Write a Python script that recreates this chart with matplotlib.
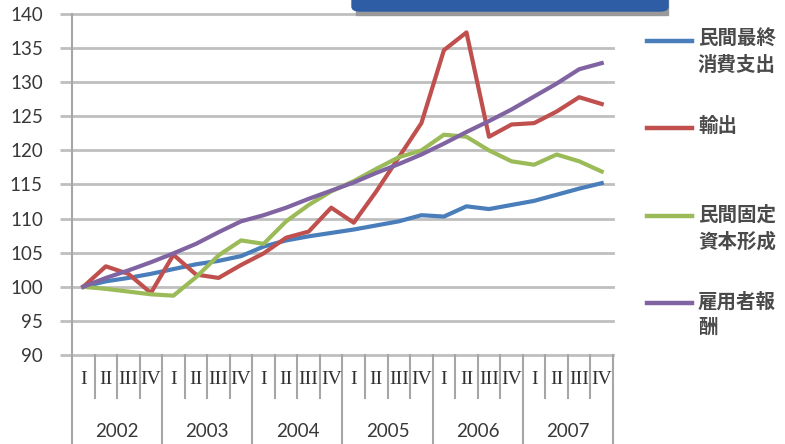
import matplotlib
matplotlib.use("Agg")
import matplotlib.pyplot as plt
from matplotlib.lines import Line2D
from matplotlib.patches import FancyBboxPatch, Rectangle
from matplotlib.transforms import blended_transform_factory

plt.rcParams["font.family"] = ["Lato", "Noto Sans CJK JP", "DejaVu Sans"]

# --- data (index, 2002 I = 100) ---
years = ["2002", "2003", "2004", "2005", "2006", "2007"]
quarters = ["I", "II", "III", "IV"]

consumption = [100.0, 100.8, 101.3, 101.9, 102.6, 103.3, 103.8, 104.5,
               105.9, 106.8, 107.4, 107.9, 108.4, 109.0, 109.6, 110.5,
               110.3, 111.8, 111.4, 112.0, 112.6, 113.5, 114.4, 115.2]
exports = [100.0, 103.0, 101.9, 99.1, 104.7, 101.8, 101.3, 103.2,
           104.9, 107.2, 108.1, 111.6, 109.4, 114.0, 119.0, 124.0,
           134.7, 137.3, 122.0, 123.8, 124.0, 125.7, 127.8, 126.8]
investment = [100.0, 99.7, 99.3, 98.9, 98.7, 101.4, 104.6, 106.8,
              106.3, 109.6, 112.0, 114.0, 115.5, 117.3, 119.0, 120.0,
              122.3, 122.0, 120.0, 118.4, 117.9, 119.4, 118.4, 116.9]
compensation = [100.0, 101.3, 102.4, 103.6, 104.9, 106.3, 108.0, 109.6,
                110.5, 111.6, 112.9, 114.1, 115.3, 116.7, 118.0, 119.4,
                121.0, 122.7, 124.3, 126.0, 127.9, 129.8, 131.9, 132.8]

series = [
    ("民間最終\n消費支出", consumption, "#4A7EBB"),
    ("輸出", exports, "#C0504D"),
    ("民間固定\n資本形成", investment, "#9BBB59"),
    ("雇用者報\n酬", compensation, "#8064A2"),
]
legend_rows_px = [41, 128, 216, 303]

W, H = 785, 444
fig = plt.figure(figsize=(W / 100, H / 100), dpi=100)
fig.patch.set_facecolor("white")


def fx(px):
    return px / W


def fy(py):
    return 1 - py / H


ax_l, ax_r, ax_t, ax_b = 72, 613, 14, 355
ax = fig.add_axes([fx(ax_l), fy(ax_b), (ax_r - ax_l) / W, (ax_b - ax_t) / H])

n = len(years) * len(quarters)
xs = list(range(n))
for label, vals, color in series:
    ax.plot(xs, vals, color=color, lw=3, solid_joinstyle="round", zorder=3)

ax.set_xlim(-0.5, n - 0.5)
ax.set_ylim(90, 140)
ax.set_yticks(range(90, 141, 5))
ax.set_xticks([])
ax.grid(axis="y", color="#BFBFBF", lw=2)
for gl in ax.get_ygridlines():
    gl.set_clip_on(False)
ax.set_axisbelow(True)
ax.tick_params(axis="y", length=9, width=2, color="#BFBFBF", pad=12,
               labelsize=13.5, labelcolor="#383838")
for s in ["top", "right", "bottom"]:
    ax.spines[s].set_visible(False)
ax.spines["left"].set_color("#A6A6A6")
ax.spines["left"].set_linewidth(1.5)

# --- two-level category axis ---
axh = ax_b - ax_t
trans = blended_transform_factory(ax.transData, ax.transAxes)
q_y = (ax_b - 379) / axh
y_y = (ax_b - 431) / axh
q_sep = (ax_b - 398) / axh
y_sep = (ax_b - 450) / axh
for i in range(n):
    ax.text(i, q_y, quarters[i % 4], transform=trans, ha="center", va="center",
            family="Liberation Serif", fontsize=14, color="#303030")
for j, yr in enumerate(years):
    ax.text(j * 4 + 1.5, y_y, yr, transform=trans, ha="center", va="center",
            fontsize=13.5, color="#383838")
for i in range(n + 1):
    bottom = y_sep if i % 4 == 0 else q_sep
    ax.plot([i - 0.5, i - 0.5], [0, bottom], transform=trans, color="#A6A6A6",
            lw=1.5, clip_on=False)

# --- legend ---
for (label, vals, color), py in zip(series, legend_rows_px):
    fig.add_artist(Line2D([fx(647), fx(692)], [fy(py), fy(py)], color=color, lw=3.2))
    fig.text(fx(698), fy(py - 12), label, ha="left", va="top", fontsize=14,
             fontweight="bold", color="#4A4A4A", linespacing=1.45)

# --- title box (cut off at top) ---
fig.add_artist(Rectangle((fx(356), fy(15)), fx(668) - fx(356), 0.1,
                         transform=fig.transFigure, color="#9A9A9A", zorder=1))
fig.add_artist(FancyBboxPatch((fx(352), fy(11)), fx(668) - fx(352), 0.1,
                              boxstyle="round,pad=0,rounding_size=0.01",
                              transform=fig.transFigure, facecolor="#2E5DA6",
                              edgecolor="#2E5DA6", zorder=2))

fig.savefig("out.png", dpi=100, facecolor="white")
